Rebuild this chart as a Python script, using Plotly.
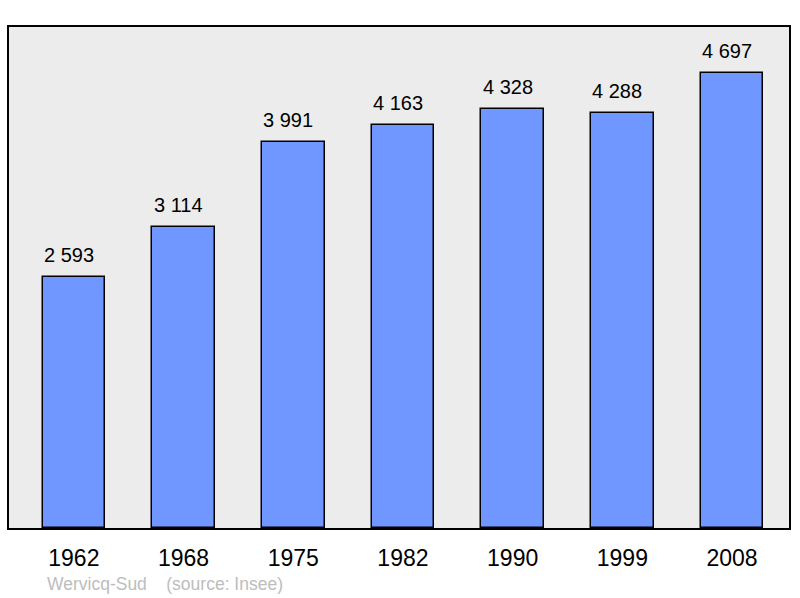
import plotly.graph_objs as go

years = ["1962", "1968", "1975", "1982", "1990", "1999", "2008"]
population = [2593, 3114, 3991, 4163, 4328, 4288, 4697]
source_note = "Wervicq-Sud    (source: Insee)"


def fmt(n):
    # french style thousands separator
    return "{:,}".format(n).replace(",", " ")


fig = go.Figure()
fig.add_trace(go.Bar(x=years, y=population, width=0.57,
                     marker=dict(color="#7096ff", line=dict(color="black", width=1.5)),
                     hoverinfo="skip"))

# category axis -> annotations placed by index
for i, val in enumerate(population):
    fig.add_annotation(x=i, y=val, text=fmt(val), showarrow=False,
                       yanchor="bottom", yshift=9, xshift=-5,
                       font=dict(family="Liberation Sans", size=20, color="black"))

fig.add_annotation(x=0.046, y=-0.112, xref="paper", yref="paper", text=source_note.replace(" ", "&nbsp;"),
                   showarrow=False, xanchor="left", yanchor="middle",
                   font=dict(family="Liberation Sans", size=17.5, color="#bdbdbd"))

fig.update_layout(
    width=800, height=598,
    margin=dict(l=9, r=9, t=27, b=70),
    paper_bgcolor="white", plot_bgcolor="#ececec",
    showlegend=False, bargap=0,
    font=dict(family="Liberation Sans", color="black"),
)
fig.update_xaxes(type="category", range=[-0.591, 6.519], showline=True, mirror=True,
                 linecolor="black", linewidth=2, ticks="", showgrid=False,
                 tickfont=dict(size=23), ticklabelstandoff=8)
fig.update_yaxes(range=[0, 5175], showline=True, mirror=True, linecolor="black", linewidth=2,
                 showticklabels=False, showgrid=False, zeroline=False, ticks="")

fig.write_html("out.html", config={"displayModeBar": False},
               post_script="document.body.style.margin='0';")
